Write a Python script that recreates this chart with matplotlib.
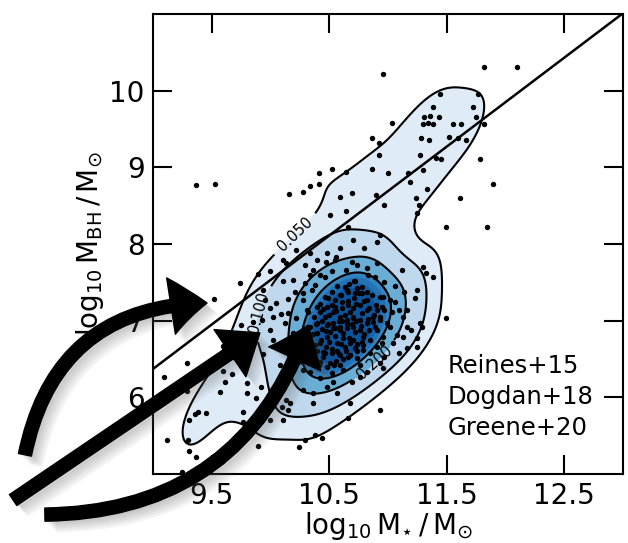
import numpy as np
import matplotlib
matplotlib.use('Agg')
import matplotlib.pyplot as plt
from matplotlib import patheffects as pe
from matplotlib.patches import FancyArrowPatch

plt.rcParams['mathtext.fontset'] = 'dejavusans'
plt.rcParams['font.family'] = 'DejaVu Sans'

# host stellar mass / black hole mass of the combined dwarf AGN samples
log_mstar = np.array([
    9.37, 9.53, 10.96, 11.82, 12.10, 11.44, 11.77, 11.38, 11.72, 11.31, 11.36, 11.43, 11.75,
    11.03, 11.30, 11.34, 11.38, 11.55, 11.62, 11.82, 10.86, 10.92, 11.28, 11.35, 11.52, 11.60,
    11.66, 10.92, 11.27, 11.41, 11.45, 11.78, 10.86, 11.00, 11.17, 11.30, 10.64, 10.52, 10.41,
    11.19, 11.89, 10.41, 10.34, 10.28, 10.16, 10.59, 10.69, 10.90, 10.97, 11.24, 11.33, 11.26,
    11.61, 10.64, 10.51, 11.49, 11.84, 11.25, 10.66, 10.93, 10.91, 10.70, 10.59, 10.80, 10.48,
    10.56, 10.34, 10.22, 10.11, 10.13, 10.29, 10.00, 9.89, 9.74, 10.11, 10.34, 10.40, 10.47,
    10.55, 10.69, 10.91, 10.82, 10.36, 10.42, 10.46, 10.52, 10.64, 10.74, 10.83, 10.89, 10.72,
    10.97, 11.12, 11.30, 11.32, 11.38, 11.25, 11.06, 10.38, 10.35, 10.65, 10.72, 10.59, 10.78,
    9.52, 9.95, 10.05, 10.15, 10.21, 10.28, 10.46, 10.93, 9.94, 10.19, 11.23, 11.14, 10.74,
    10.82, 10.55, 10.61, 10.66, 10.70, 10.76, 10.82, 11.02, 10.95, 11.06, 10.97, 11.09, 11.03,
    11.13, 10.93, 10.87, 10.53, 10.59, 10.65, 10.70, 10.76, 10.82, 10.46, 10.40, 10.48, 10.53,
    10.59, 10.65, 10.70, 10.76, 10.89, 10.91, 11.02, 11.29, 11.49, 10.40, 10.48, 10.62, 10.68,
    10.57, 10.79, 10.85, 10.95, 11.08, 11.16, 10.42, 10.31, 10.29, 10.28, 10.00, 10.09, 10.15,
    10.22, 10.32, 9.75, 9.85, 9.93, 10.02, 10.63, 10.55, 10.48, 10.42, 10.31, 10.27, 10.19,
    10.12, 10.00, 10.02, 10.96, 10.99, 10.96, 10.91, 10.85, 10.91, 10.93, 11.16, 11.27, 11.20,
    11.13, 11.04, 11.09, 10.97, 11.25, 10.72, 10.79, 10.45, 10.52, 10.59, 10.66, 10.42, 10.51,
    10.59, 10.36, 10.34, 10.27, 10.23, 10.08, 10.11, 10.70, 10.78, 11.16, 11.25, 10.93, 10.68,
    10.36, 10.93, 10.66, 10.44, 10.24, 10.69, 10.53, 10.48, 10.42, 10.34, 10.52, 10.62, 10.74,
    10.76, 10.36, 10.28, 10.57, 10.76, 10.82, 10.96, 9.29, 9.09, 9.60, 9.94, 9.68, 9.60, 9.67,
    9.61, 9.57, 9.80, 9.92, 9.88, 10.06, 10.13, 10.15, 10.11, 10.00, 9.77, 9.77, 9.45, 9.38,
    9.36, 9.31, 9.29, 9.12, 9.30, 9.31, 9.37, 9.51, 9.89, 10.28, 9.25, 10.10, 10.17, 10.29,
    10.38, 9.80,
    # crowded core
    10.35, 10.38, 10.40, 10.43, 10.45, 10.47, 10.50, 10.52, 10.55, 10.57,
    10.60, 10.62, 10.64, 10.67, 10.69, 10.72, 10.74, 10.77, 10.80, 10.83,
    10.36, 10.39, 10.44, 10.47, 10.50, 10.53, 10.56, 10.58, 10.61, 10.63,
    10.66, 10.68, 10.71, 10.73, 10.75, 10.78, 10.80, 10.84, 10.86, 10.88,
    10.42, 10.45, 10.49, 10.52, 10.57, 10.60, 10.67, 10.71, 10.56, 10.62,
    10.68, 10.74, 10.79, 10.84, 10.87, 10.90, 10.33, 10.41, 10.48, 10.54,
    10.31, 10.34, 10.37, 10.40, 10.46, 10.51, 10.59, 10.65, 10.70, 10.73,
    10.63, 10.58, 10.49, 10.44, 10.66, 10.78, 10.82, 10.52, 10.55, 10.61,
])
log_mbh = np.array([
    8.77, 8.78, 10.22, 10.31, 10.31, 9.96, 9.96, 9.79, 9.79, 9.66, 9.67, 9.66, 9.66,
    9.58, 9.57, 9.58, 9.57, 9.57, 9.57, 9.57, 9.38, 9.32, 9.38, 9.36, 9.40, 9.38,
    9.36, 9.16, 9.16, 9.12, 9.11, 9.11, 8.98, 8.93, 8.93, 8.97, 8.94, 8.98, 8.93,
    8.81, 8.78, 8.78, 8.76, 8.68, 8.65, 8.61, 8.67, 8.64, 8.51, 8.60, 8.72, 8.51,
    8.60, 8.43, 8.38, 8.22, 8.22, 8.40, 8.22, 8.12, 8.03, 8.05, 7.95, 7.95, 7.88,
    7.83, 7.88, 7.92, 7.79, 7.75, 7.73, 7.65, 7.61, 7.49, 7.52, 7.60, 7.79, 7.77,
    7.79, 7.77, 7.75, 7.69, 7.66, 7.60, 7.57, 7.65, 7.66, 7.73, 7.60, 7.57, 7.52,
    7.50, 7.66, 7.70, 7.62, 7.57, 7.40, 7.45, 7.47, 7.40, 7.40, 7.36, 7.33, 7.36,
    7.28, 7.27, 7.23, 7.28, 7.37, 7.27, 7.31, 7.31, 7.40, 7.53, 7.30, 7.37, 7.43,
    7.27, 7.18, 7.24, 7.20, 7.17, 7.20, 7.14, 7.27, 7.18, 7.24, 7.14, 7.14, 7.11,
    7.05, 7.05, 7.05, 7.11, 7.05, 7.01, 7.05, 7.01, 6.97, 7.05, 6.97, 6.94, 6.90,
    6.92, 6.90, 6.92, 6.88, 6.92, 6.88, 6.92, 6.92, 7.03, 6.84, 6.79, 6.77, 6.71,
    6.71, 6.79, 6.75, 6.71, 6.81, 6.92, 6.71, 7.14, 7.49, 7.36, 7.17, 7.09, 7.10,
    7.03, 7.11, 6.94, 6.98, 7.01, 7.05, 7.44, 7.27, 7.18, 7.11, 6.90, 6.77, 6.84,
    6.97, 6.88, 6.75, 7.31, 6.97, 6.79, 6.66, 6.58, 7.14, 7.01, 7.14, 6.97, 6.88,
    6.79, 6.71, 6.58, 6.53, 6.77, 6.64, 6.62, 6.59, 6.58, 6.55, 6.53, 6.46, 6.45,
    6.42, 6.66, 6.51, 6.46, 6.64, 6.42, 6.62, 6.75, 6.72, 6.64, 6.66, 6.45, 5.93,
    5.93, 5.83, 5.73, 5.47, 5.35, 6.20, 6.20, 6.13, 6.25, 6.33, 6.32, 6.36, 6.51,
    6.42, 6.06, 6.10, 6.06, 6.27, 6.33, 6.38, 6.45, 6.27, 6.67, 6.57, 6.53, 6.34, 6.30,
    6.20, 6.07, 6.19, 6.13, 5.99, 6.10, 5.97, 5.83, 5.70, 5.70, 5.81, 5.68, 5.80, 5.81,
    5.78, 5.70, 6.08, 5.44, 5.44, 5.30, 5.22, 5.22, 5.37, 6.36, 5.03, 5.87, 5.93, 5.44,
    5.51, 6.06,
    # crowded core
    6.55, 6.68, 6.60, 6.75, 6.52, 6.66, 6.72, 6.63, 6.80, 6.61,
    6.70, 6.84, 6.60, 6.78, 6.96, 6.85, 6.70, 6.93, 6.82, 7.02,
    6.82, 6.95, 7.00, 6.86, 7.08, 6.97, 7.12, 6.99, 7.16, 7.07,
    7.26, 7.11, 7.30, 7.22, 7.36, 7.10, 7.25, 7.17, 7.33, 7.08,
    7.22, 7.15, 7.30, 7.38, 7.45, 7.33, 7.48, 7.52, 6.48, 6.50,
    6.55, 6.60, 6.68, 6.88, 6.98, 7.20, 6.45, 6.42, 6.40, 6.42,
    6.72, 6.92, 7.05, 7.18, 6.58, 6.85, 6.88, 6.95, 7.04, 6.99,
    6.66, 6.57, 6.95, 6.89, 7.38, 7.44, 7.38, 7.20, 6.91, 6.99,
])

# Kormendy & Ho (2013) scaling, log M_BH = norm + slope (log M* - pivot)
kh_norm = 8.69
kh_slope = 1.16
kh_pivot = 11.0

samples = ['Reines+15', 'Dogdan+18', 'Greene+20']

line_levels = [0.05, 0.1, 0.2, 0.3]
fill_levels = [0.05, 0.1, 0.2, 0.3, 0.34, 0.38, 0.42, 5.0]
fill_shades = [0.12, 0.27, 0.50, 0.68, 0.74, 0.80, 0.86]
kde_bw = 0.38
density_unit = 1.0

# where each contour gets its inline value
label_spots = {0.05: (10.14, 8.25), 0.1: (9.82, 7.14), 0.2: (10.85, 6.53)}


def gauss_kde(x, y, gx, gy, factor):
    data = np.vstack([x, y])
    n = data.shape[1]
    cov = np.cov(data) * factor ** 2
    inv = np.linalg.inv(cov)
    pts = np.vstack([gx.ravel(), gy.ravel()])
    z = np.zeros(pts.shape[1])
    for xi, yi in zip(x, y):
        d = pts - np.array([[xi], [yi]])
        z += np.exp(-0.5 * np.sum(d * (inv @ d), axis=0))
    z /= n * 2 * np.pi * np.sqrt(np.linalg.det(cov))
    return z.reshape(gx.shape)


gx, gy = np.meshgrid(np.linspace(8.8, 13.2, 220), np.linspace(4.6, 11.4, 260))
dens = gauss_kde(log_mstar, log_mbh, gx, gy, kde_bw) * density_unit

fig = plt.figure(figsize=(6.28, 5.43), dpi=100)
ax = fig.add_axes([0.2436, 0.1271, 0.7484, 0.8471])

ax.contourf(gx, gy, dens, levels=fill_levels,
            colors=[plt.cm.Blues(v) for v in fill_shades], zorder=1)
# one contour set per level so each can carry its own label
for lev in line_levels:
    cs = ax.contour(gx, gy, dens, levels=[lev], colors='k', linewidths=1.5, zorder=2)
    if lev in label_spots:
        ax.clabel(cs, fmt='%.3f', fontsize=10.5, inline=True, manual=[label_spots[lev]])

xl = np.array([9.0, 13.0])
ax.plot(xl, kh_norm + kh_slope * (xl - kh_pivot), color='k', lw=1.8, zorder=3)

ax.scatter(log_mstar, log_mbh, s=15, color='k', lw=0, zorder=4)

for i, name in enumerate(samples):
    ax.annotate(name, xy=(11.51, 6.317), xytext=(0, -22.3 * i), textcoords='offset points',
                fontsize=17.5, ha='left', va='baseline', zorder=5)

ax.set_xlim(9, 13)
ax.set_ylim(5, 11)
ax.set_xticks([9.5, 10.5, 11.5, 12.5])
ax.set_xticklabels(['9.5', '10.5', '11.5', '12.5'])
ax.set_yticks([6, 7, 8, 9, 10])
ax.tick_params(direction='in', length=14, width=1.5, labelsize=20, top=True, right=True, pad=6)
for sp in ax.spines.values():
    sp.set_linewidth(1.5)

ax.set_xlabel(r'$\log_{10}\mathrm{M}_{\star}\,/\,\mathrm{M}_{\odot}$', fontsize=20, labelpad=0)
ax.set_ylabel(r'$\log_{10}\mathrm{M}_{\mathrm{BH}}\,/\,\mathrm{M}_{\odot}$', fontsize=20, labelpad=2)

# arrows pointing the three samples into the plane, with a soft drop shadow
arrow_tails = [(7.91, 5.25), (7.81, 4.66), (8.08, 4.47)]
arrow_tips = [(9.46, 7.23), (9.91, 6.84), (10.32, 6.94)]
arrow_bend = [-0.4, 0.0, 0.35]
shadow = [pe.SimplePatchShadow(offset=(d, -d), shadow_rgbFace='0.35', alpha=0.07)
          for d in (2, 3.5, 5, 6.5, 8)]
for tail, tip, rad in zip(arrow_tails, arrow_tips, arrow_bend):
    arr = FancyArrowPatch(tail, tip, connectionstyle='arc3,rad=%.2f' % rad,
                          arrowstyle='simple,head_length=2.6,head_width=4.1,tail_width=0.95',
                          mutation_scale=10, shrinkA=0, shrinkB=0, color='k',
                          clip_on=False, zorder=10)
    arr.set_path_effects(shadow + [pe.Normal()])
    ax.add_patch(arr)

fig.savefig('out.png', dpi=100)
